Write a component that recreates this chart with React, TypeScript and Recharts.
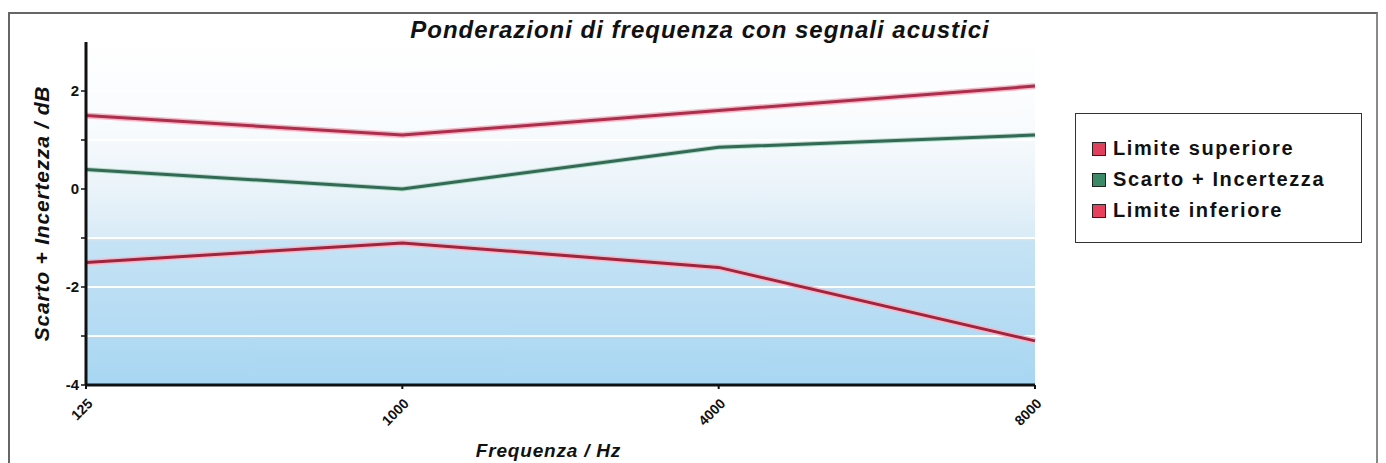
import React from 'react';
import { LineChart, Line, XAxis, YAxis, CartesianGrid, ReferenceLine, Legend, Label } from 'recharts';

const categories = ['125', '1000', '4000', '8000'];
const upperLimit = [1.5, 1.1, 1.6, 2.1];
const deviation = [0.4, 0.0, 0.85, 1.1];
const lowerLimit = [-1.5, -1.1, -1.6, -3.1];
const yTicks = [-4, -3, -2, -1, 0, 1, 2];
const yLabelled = [-4, -2, 0, 2];
const gridValues = [-3, -2, -1, 1, 2];

const data = categories.map((c, i) => ({
  freq: c,
  upper: upperLimit[i],
  dev: deviation[i],
  lower: lowerLimit[i],
}));

const legendItems = [
  { label: 'Limite superiore', color: '#e0405c' },
  { label: 'Scarto + Incertezza', color: '#3a8a68' },
  { label: 'Limite inferiore', color: '#e8405c' },
];

const FONT = '"Liberation Sans", Arial, sans-serif';

const XTick = (props: any) => {
  const { x, y, payload } = props;
  const ax = x + 4;
  const ay = y + 10;
  return (
    <text
      x={ax}
      y={ay}
      transform={`rotate(-45 ${ax} ${ay})`}
      textAnchor="end"
      dominantBaseline="central"
      fontFamily={FONT}
      fontWeight="bold"
      fontSize={14}
      fill="#111"
    >
      {payload.value}
    </text>
  );
};

const LegendBox = () => (
  <div
    style={{
      width: 287,
      height: 130,
      border: '1.5px solid #333',
      background: '#fff',
      boxSizing: 'border-box',
      paddingTop: 19,
      paddingLeft: 16,
      fontFamily: FONT,
      fontWeight: 'bold',
      fontSize: 20,
      letterSpacing: 1.6,
      color: '#111',
      whiteSpace: 'nowrap',
    }}
  >
    {legendItems.map((it) => (
      <div key={it.label} style={{ display: 'flex', alignItems: 'center', height: 31 }}>
        <span
          style={{
            display: 'inline-block',
            width: 12,
            height: 12,
            background: it.color,
            border: '1.5px solid #222',
            marginRight: 7,
            flex: 'none',
          }}
        />
        <span>{it.label}</span>
      </div>
    ))}
  </div>
);

export default function App() {
  return (
    <div
      style={{
        position: 'relative',
        width: 1370,
        height: 455,
        borderTop: '2px solid #666',
        borderLeft: '2px solid #666',
        borderRight: '2px solid #888',
        boxSizing: 'border-box',
        marginTop: 4,
        background: '#fff',
      }}
    >
      <div
        style={{
          position: 'absolute',
          left: 0,
          width: 1380,
          top: 2,
          textAlign: 'center',
          fontFamily: FONT,
          fontWeight: 'bold',
          fontStyle: 'italic',
          fontSize: 24,
          letterSpacing: 1,
          color: '#111',
          zIndex: 2,
        }}
      >
        Ponderazioni di frequenza con segnali acustici
      </div>
      <LineChart
        width={1366}
        height={451}
        data={data}
        margin={{ top: 28, right: 54, bottom: 0, left: 0 }}
      >
        <defs>
          <linearGradient id="bgGrad" x1="0" y1="0" x2="0" y2="1">
            <stop offset="0%" stopColor="#ffffff" />
            <stop offset="25%" stopColor="#f8fbfd" />
            <stop offset="45%" stopColor="#e8f2f9" />
            <stop offset="57%" stopColor="#d8ebf7" />
            <stop offset="58%" stopColor="#c6e3f5" />
            <stop offset="100%" stopColor="#a8d6f2" />
          </linearGradient>
        </defs>
        <CartesianGrid horizontal={false} vertical={false} fill="url(#bgGrad)" stroke="none" />
        {gridValues.map((v) => (
          <ReferenceLine key={v} y={v} stroke="#ffffff" strokeWidth={2} ifOverflow="hidden" />
        ))}
        <XAxis
          dataKey="freq"
          height={80}
          tick={<XTick />}
          tickLine={{ stroke: '#111', strokeWidth: 2 }}
          tickSize={4}
          axisLine={{ stroke: '#111', strokeWidth: 3 }}
          interval={0}
        >
          <Label
            value="Frequenza / Hz"
            position="insideBottom"
            offset={8}
            dx={-12}
            style={{ fontFamily: FONT, fontWeight: 'bold', fontStyle: 'italic', fontSize: 19, letterSpacing: 0.8, fill: '#111' }}
          />
        </XAxis>
        <YAxis
          domain={[-4, 3]}
          ticks={yTicks}
          interval={0}
          tickFormatter={(v: number) => (yLabelled.includes(v) ? String(v) : '')}
          width={76}
          tickLine={{ stroke: '#111', strokeWidth: 1.5 }}
          tickSize={5}
          axisLine={{ stroke: '#111', strokeWidth: 3 }}
          tick={{ fontFamily: FONT, fontWeight: 'bold', fontSize: 15, fill: '#111' }}
          allowDataOverflow
        >
          <Label
            value="Scarto + Incertezza / dB"
            angle={-90}
            position="center"
            dx={-6}
            style={{ fontFamily: FONT, fontWeight: 'bold', fontStyle: 'italic', fontSize: 21, letterSpacing: 0.8, fill: '#111', textAnchor: 'middle' }}
          />
        </YAxis>
        <Line dataKey="upper" stroke="#f4b8c4" strokeWidth={6} dot={false} isAnimationActive={false} legendType="none" />
        <Line dataKey="lower" stroke="#f4b8c4" strokeWidth={6} dot={false} isAnimationActive={false} legendType="none" />
        <Line dataKey="dev" stroke="#b8d8c8" strokeWidth={5} dot={false} isAnimationActive={false} legendType="none" />
        <Line dataKey="upper" name="Limite superiore" stroke="#b02c4c" strokeWidth={3} dot={false} isAnimationActive={false} />
        <Line dataKey="dev" name="Scarto + Incertezza" stroke="#2f6b55" strokeWidth={3} dot={false} isAnimationActive={false} />
        <Line dataKey="lower" name="Limite inferiore" stroke="#a0243f" strokeWidth={3} dot={false} isAnimationActive={false} />
        <Legend
          content={<LegendBox />}
          layout="vertical"
          verticalAlign="top"
          align="right"
          wrapperStyle={{ position: 'absolute', left: 1065, top: 99, width: 287 }}
        />
      </LineChart>
    </div>
  );
}
